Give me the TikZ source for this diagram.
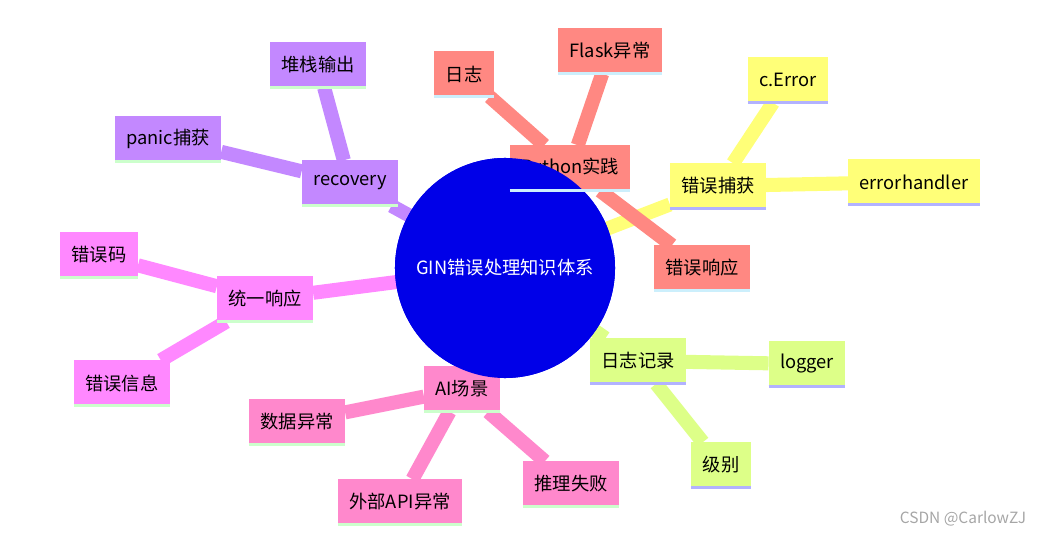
\documentclass[tikz,border=0pt]{standalone}
\usepackage{fontspec}
\setmainfont{Noto Sans CJK SC}
\usetikzlibrary{backgrounds}
\definecolor{pyred}{HTML}{FF8882}
\definecolor{catchy}{HTML}{FFFF78}
\definecolor{logg}{HTML}{DDFF88}
\definecolor{aipink}{HTML}{FF88CC}
\definecolor{unimag}{HTML}{FF88FF}
\definecolor{recpur}{HTML}{C388FF}
\definecolor{coreblue}{HTML}{0000E8}

\begin{document}
\begin{tikzpicture}[x=0.025cm,y=-0.025cm]
	\tikzset{leaf/.style={fill=#1, minimum height=1.125cm, inner xsep=8pt, font=\fontsize{13pt}{15pt}\selectfont, text=black},
		edge/.style={draw=#1, line width=10pt},
		foot/.style={draw=#1, line width=2pt}}
	\useasboundingbox (0,0) rectangle (1048,537);

	% core
	\node[circle, fill=coreblue, minimum size=5.5cm, text=white, font=\fontsize{13pt}{15pt}\selectfont] (core) at (505,268) {GIN错误处理知识体系};

	% Python branch
	\node[leaf=pyred] (py) at (570,168) {Python实践};
	\node[leaf=pyred] (pylog) at (464,74) {日志};
	\node[leaf=pyred] (flask) at (610,51) {Flask异常};
	\node[leaf=pyred] (pyresp) at (702,268) {错误响应};

	% catch branch
	\node[leaf=catchy] (catch) at (718,186) {错误捕获};
	\node[leaf=catchy] (cerr) at (788,80) {c.Error};
	\node[leaf=catchy] (ehand) at (914,182) {errorhandler};

	% log branch
	\node[leaf=logg] (logrec) at (638,361) {日志记录};
	\node[leaf=logg] (logger) at (807,364) {logger};
	\node[leaf=logg] (level) at (721,465) {级别};

	% AI branch
	\node[leaf=aipink] (ai) at (462,389) {AI场景};
	\node[leaf=aipink] (data) at (297,422) {数据异常};
	\node[leaf=aipink] (extapi) at (400,502) {外部API异常};
	\node[leaf=aipink] (infer) at (571,484) {推理失败};

	% unified response branch
	\node[leaf=unimag] (uni) at (265,299) {统一响应};
	\node[leaf=unimag] (code) at (99,255) {错误码};
	\node[leaf=unimag] (msg) at (122,383) {错误信息};

	% recovery branch
	\node[leaf=recpur] (rec) at (350,183) {recovery};
	\node[leaf=recpur] (panic) at (168,139) {panic捕获};
	\node[leaf=recpur] (stack) at (318,65) {堆栈输出};

	\node[text=gray!70, font=\fontsize{11pt}{13pt}\selectfont] (mark) at (963,519) {CSDN @CarlowZJ};

	\begin{scope}[on background layer]
		\draw[edge=catchy] (core.center) -- (catch) -- (cerr) (catch) -- (ehand);
		\draw[edge=logg] (core.center) -- (logrec) -- (logger) (logrec) -- (level);
		\draw[edge=aipink] (core.center) -- (ai) -- (data) (ai) -- (extapi) (ai) -- (infer);
		\draw[edge=unimag] (core.center) -- (uni) -- (code) (uni) -- (msg);
		\draw[edge=recpur] (core.center) -- (rec) -- (panic) (rec) -- (stack);
	\end{scope}
	\node[circle, fill=coreblue, minimum size=5.5cm, text=white, font=\fontsize{13pt}{15pt}\selectfont] at (core) {GIN错误处理知识体系};
	\begin{scope}[on background layer]
		\draw[edge=pyred] (py) -- (pylog) (py) -- (flask) (py) -- (pyresp);
	\end{scope}

	% footer lines
	\foreach \n/\c in {py/cyan!20, pylog/cyan!20, flask/cyan!20, pyresp/cyan!20,
		catch/blue!30, cerr/blue!30, ehand/blue!30,
		logrec/blue!30, logger/blue!30, level/blue!30,
		ai/green!20, data/green!20, extapi/green!20, infer/green!20,
		uni/green!20, code/green!20, msg/green!20,
		rec/green!20, panic/green!20, stack/green!20}{
		\draw[foot=\c] (\n.south west) -- (\n.south east);
	}
\end{tikzpicture}
\end{document}
